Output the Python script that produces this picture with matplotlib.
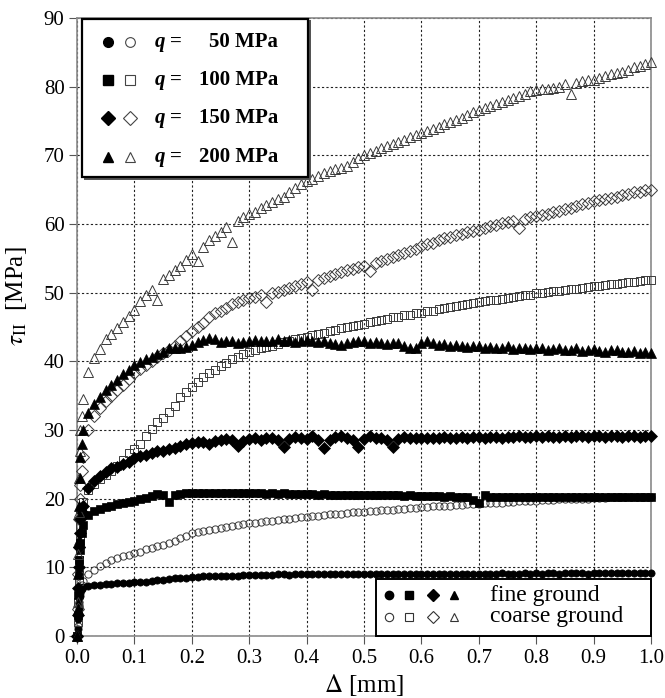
import numpy as np
import matplotlib.pyplot as plt
from matplotlib.patches import Rectangle

plt.rcParams["font.family"] = ["Liberation Serif", "DejaVu Serif"]
plt.rcParams["mathtext.fontset"] = "stix"

# sample positions: a few close to zero, then every 0.01 mm
x_start = [0.0, 0.001, 0.002, 0.003, 0.004, 0.005, 0.006, 0.008]
x_mm = np.r_[x_start, np.arange(1, 101) / 100]

# coarse ground (open markers)
coarse_50 = [0, 1.5, 3, 4.5, 5.5, 6.3, 6.8, 7.5,
             8.0, 9.0, 9.6, 10.2, 10.7, 11.0, 11.3, 11.6, 11.8, 12.1,
             12.3, 12.6, 12.8, 13.1, 13.3, 13.5, 13.9, 14.3, 14.6, 15.0,
             15.2, 15.3, 15.5, 15.6, 15.8, 15.9, 16.0, 16.2, 16.3, 16.4,
             16.5, 16.6, 16.7, 16.8, 16.9, 17.0, 17.1, 17.2, 17.3, 17.4,
             17.5, 17.5, 17.6, 17.7, 17.8, 17.8, 17.9, 18.0, 18.0, 18.1,
             18.2, 18.2, 18.3, 18.4, 18.4, 18.5, 18.5, 18.6, 18.7, 18.8,
             18.8, 18.9, 18.9, 19.0, 19.0, 19.1, 19.1, 19.2, 19.2, 19.2,
             19.3, 19.3, 19.4, 19.4, 19.5, 19.5, 19.6, 19.6, 19.7, 19.7,
             19.8, 19.8, 19.8, 19.9, 19.9, 19.9, 20.0, 20.0, 20.0, 20.1,
             20.1, 20.1, 20.2, 20.2, 20.2, 20.2, 20.3, 20.3, 20.3, 20.3]
coarse_100 = [0, 2, 5, 8, 11, 14, 16, 18,
              19.5, 21.2, 22.2, 22.9, 23.5, 24.1, 24.8, 25.6, 26.6, 27.3,
              28.0, 29.2, 30.2, 31.1, 31.8, 32.6, 33.5, 34.8, 35.6, 36.3,
              37.0, 37.7, 38.3, 38.8, 39.3, 39.8, 40.3, 40.7, 41.0, 41.3,
              41.6, 41.9, 42.1, 42.3, 42.5, 42.8, 43.0, 43.2, 43.4, 43.6,
              43.8, 44.0, 44.2, 44.4, 44.6, 44.8, 45.0, 45.1, 45.3, 45.5,
              45.7, 45.9, 46.0, 46.2, 46.4, 46.5, 46.7, 46.8, 47.0, 47.1,
              47.3, 47.4, 47.6, 47.8, 47.9, 48.1, 48.2, 48.4, 48.5, 48.7,
              48.8, 48.9, 49.0, 49.1, 49.2, 49.4, 49.5, 49.6, 49.7, 49.9,
              50.0, 50.1, 50.2, 50.3, 50.4, 50.5, 50.6, 50.7, 50.8, 50.9,
              51.0, 51.1, 51.2, 51.3, 51.4, 51.5, 51.6, 51.7, 51.8, 51.9]
coarse_150 = [0, 4, 9, 13, 17, 20, 22, 24,
              26.0, 30.0, 32.0, 33.2, 34.2, 35.0, 35.8, 36.6, 37.4, 38.3,
              38.9, 39.5, 40.1, 40.7, 41.2, 41.6, 42.3, 43.0, 43.7, 44.4,
              45.0, 45.6, 46.4, 47.0, 47.4, 47.8, 48.3, 48.6, 48.9, 49.2,
              49.4, 49.6, 48.6, 49.9, 50.1, 50.4, 50.7, 51.0, 51.3, 51.6,
              50.4, 51.9, 52.1, 52.4, 52.7, 53.0, 53.3, 53.5, 53.7, 53.9,
              53.1, 54.3, 54.6, 54.9, 55.2, 55.5, 55.8, 56.1, 56.4, 56.8,
              57.1, 57.3, 57.6, 57.9, 58.1, 58.4, 58.6, 58.8, 59.0, 59.2,
              59.4, 59.7, 59.9, 60.1, 60.3, 60.5, 59.4, 60.8, 61.0, 61.1,
              61.3, 61.5, 61.7, 61.9, 62.2, 62.4, 62.6, 62.9, 63.1, 63.3,
              63.5, 63.6, 63.8, 64.0, 64.2, 64.4, 64.6, 64.7, 64.9, 65.0]
coarse_200 = [0, 5, 12, 18, 23, 27, 30, 32,
              34.5, 38.5, 40.5, 41.8, 43.2, 44.0, 44.8, 45.7, 46.6, 47.5,
              48.8, 49.6, 50.4, 48.9, 52.0, 52.6, 53.3, 53.9, 54.8, 55.7,
              54.6, 56.6, 57.6, 58.2, 58.9, 59.6, 57.4, 60.4, 61.0, 61.4,
              61.8, 62.3, 62.8, 63.2, 63.6, 64.0, 64.6, 65.2, 65.8, 66.3,
              66.6, 67.0, 67.4, 67.7, 68.0, 68.2, 68.5, 69.0, 69.6, 70.1,
              70.4, 70.7, 71.0, 71.3, 71.6, 71.9, 72.2, 72.6, 72.9, 73.2,
              73.5, 73.8, 74.1, 74.5, 74.8, 75.1, 75.5, 75.9, 76.3, 76.6,
              76.9, 77.2, 77.5, 77.8, 78.1, 78.4, 78.7, 79.0, 79.3, 79.5,
              79.6, 79.7, 79.8, 80.0, 80.4, 79.0, 80.6, 80.8, 80.9, 81.0,
              81.2, 81.5, 81.8, 82.0, 82.2, 82.5, 82.8, 83.0, 83.3, 83.6]

# fine ground (filled markers)
fine_50 = [0, 1, 2.5, 4, 5, 5.8, 6.4, 6.9,
           7.1, 7.3, 7.4, 7.5, 7.6, 7.6, 7.7, 7.7, 7.7, 7.8,
           7.9, 7.9, 8.0, 8.1, 8.2, 8.3, 8.4, 8.4, 8.5, 8.6,
           8.6, 8.7, 8.7, 8.7, 8.8, 8.8, 8.8, 8.8, 8.9, 8.9,
           8.9, 8.9, 8.9, 8.9, 9.0, 9.0, 8.9, 9.0, 9.0, 9.0,
           9.0, 9.0, 9.0, 9.0, 9.0, 9.0, 9.0, 9.1, 9.0, 9.0,
           9.0, 9.1, 9.0, 9.1, 9.1, 9.0, 9.1, 9.1, 9.1, 9.1,
           9.1, 9.1, 9.1, 9.0, 9.1, 9.1, 9.1, 9.1, 9.1, 9.1,
           9.1, 9.1, 9.1, 9.2, 9.1, 9.1, 9.1, 9.2, 9.1, 9.2,
           9.1, 9.2, 9.2, 9.1, 9.2, 9.2, 9.2, 9.2, 9.1, 9.2,
           9.2, 9.2, 9.2, 9.2, 9.2, 9.2, 9.2, 9.2, 9.2, 9.2]
fine_100 = [0, 3, 6, 9, 11, 12.5, 13.5, 15,
            16.2, 17.6, 18.2, 18.5, 18.8, 19.0, 19.2, 19.4, 19.5, 19.7,
            19.9, 20.1, 20.4, 20.7, 20.6, 19.5, 20.5, 20.7, 20.8, 20.8,
            20.9, 20.9, 20.9, 20.8, 20.9, 20.8, 20.8, 20.9, 20.8, 20.8,
            20.8, 20.8, 20.7, 20.8, 20.7, 20.8, 20.7, 20.7, 20.7, 20.7,
            20.7, 20.6, 20.7, 20.6, 20.6, 20.6, 20.6, 20.5, 20.6, 20.5,
            20.5, 20.5, 20.6, 20.5, 20.5, 20.5, 20.4, 20.5, 20.4, 20.4,
            20.4, 20.4, 20.4, 20.3, 20.4, 20.3, 20.3, 20.2, 19.8, 19.3,
            20.6, 20.3, 20.3, 20.3, 20.3, 20.3, 20.2, 20.3, 20.3, 20.2,
            20.2, 20.2, 20.3, 20.2, 20.2, 20.2, 20.3, 20.2, 20.2, 20.2,
            20.3, 20.2, 20.2, 20.2, 20.3, 20.2, 20.2, 20.3, 20.2, 20.3]
fine_150 = [0, 3, 7, 10, 13, 15, 17, 18,
            19.0, 21.5, 22.6, 23.3, 23.9, 24.4, 24.6, 25.0, 25.4, 25.9,
            26.2, 26.4, 26.6, 26.9, 27.0, 27.3, 27.4, 27.6, 27.9, 28.1,
            28.2, 28.3, 28.0, 28.4, 28.5, 28.7, 28.6, 27.6, 28.4, 28.7,
            28.8, 28.6, 28.9, 28.8, 28.6, 27.5, 28.7, 29.0, 28.9, 28.7,
            29.1, 28.5, 27.4, 28.6, 29.0, 29.1, 28.8, 28.6, 27.5, 28.7,
            29.1, 28.9, 28.8, 28.5, 27.5, 28.7, 29.0, 28.9, 28.8, 28.9,
            28.8, 28.9, 28.9, 29.0, 28.9, 28.9, 29.0, 28.9, 29.0, 29.0,
            28.9, 29.0, 29.0, 28.9, 29.0, 29.0, 29.1, 29.0, 29.0, 29.1,
            29.0, 29.1, 29.0, 29.0, 29.1, 29.0, 29.1, 29.1, 29.0, 29.1,
            29.1, 29.0, 29.1, 29.1, 29.0, 29.1, 29.1, 29.0, 29.1, 29.1]
fine_200 = [0, 4, 9, 14, 19, 23, 26, 28,
            30.0, 32.5, 33.8, 34.8, 35.8, 36.5, 37.3, 38.1, 38.8, 39.5,
            39.9, 40.3, 40.7, 41.0, 41.4, 41.9, 42.0, 41.9, 42.1, 42.4,
            42.8, 43.1, 43.4, 43.2, 42.8, 42.9, 43.0, 42.6, 42.8, 43.0,
            43.1, 43.0, 42.9, 42.9, 43.2, 43.0, 43.1, 42.8, 43.0, 43.1,
            43.0, 42.8, 42.9, 42.6, 42.5, 42.4, 42.7, 42.8, 42.9, 42.9,
            42.7, 42.8, 42.6, 42.5, 42.7, 42.6, 42.2, 41.9, 42.0, 42.7,
            42.9, 42.6, 42.4, 42.5, 42.3, 42.4, 42.2, 42.1, 42.3, 42.2,
            42.0, 42.1, 41.9, 42.0, 42.2, 41.8, 41.9, 42.0, 41.8, 42.0,
            41.9, 41.7, 41.8, 42.0, 41.6, 41.7, 41.9, 41.5, 41.6, 41.8,
            41.5, 41.4, 41.6, 41.7, 41.3, 41.4, 41.5, 41.2, 41.3, 41.2]

loads = ["50", "100", "150", "200"]
markers = ["o", "s", "D", "^"]
msizes = [5.2, 5.6, 5.8, 7]
fine = [fine_50, fine_100, fine_150, fine_200]
coarse = [coarse_50, coarse_100, coarse_150, coarse_200]

fig = plt.figure(figsize=(6.65, 6.98), dpi=100)
ax = fig.add_axes([0.1158, 0.0888, 0.8632, 0.8854])

for m, ms, yc, yf in zip(markers, msizes, coarse, fine):
    ax.plot(x_mm, yc, linestyle="none", marker=m, ms=ms, mfc="none",
            mec="#3a3a3a", mew=0.7, clip_on=False, zorder=3)
    ax.plot(x_mm, yf, linestyle="none", marker=m, ms=ms, mfc="black",
            mec="black", mew=0.5, clip_on=False, zorder=3)

ax.set_xlim(0, 1.0)
ax.set_ylim(0, 90)
ax.set_xticks(np.arange(0, 1.01, 0.1))
ax.set_xticklabels([f"{v:.1f}" for v in np.arange(0, 1.01, 0.1)])
ax.set_yticks(range(0, 91, 10))
ax.tick_params(labelsize=15, direction="out", length=6, color="#555555",
               pad=3)
ax.grid(True, color="#222222", linestyle=(0, (2, 2)), linewidth=0.8)
for s in ax.spines.values():
    s.set_color("#8a8a8a")
    s.set_linewidth(1.2)

ax.set_xlabel(r"$\Delta$ [mm]", fontsize=18)
ax.xaxis.set_label_coords(0.5, -0.058)
ax.set_ylabel(r"$\tau_{\rm II}$  [MPa]", fontsize=18)
ax.yaxis.set_label_coords(-0.083, 0.55)

# upper left key: loads
ax.add_patch(Rectangle((0.012, 0.738), 0.395, 0.259, transform=ax.transAxes,
                       facecolor="#555555", edgecolor="none", zorder=5,
                       clip_on=False))
ax.add_patch(Rectangle((0.008, 0.742), 0.395, 0.256, transform=ax.transAxes,
                       facecolor="white", edgecolor="black", lw=1.6, zorder=5,
                       clip_on=False))
rows = [0.961, 0.900, 0.838, 0.775]
for m, ld, yy in zip(markers, loads, rows):
    ax.plot([0.054], [yy], marker=m, ms=7, color="black", mec="black",
            transform=ax.transAxes, zorder=6, clip_on=False)
    ax.plot([0.092], [yy], marker=m, ms=7, mfc="white", mec="#444444",
            mew=0.8, transform=ax.transAxes, zorder=6, clip_on=False)
    ax.text(0.135, yy, "q", style="italic", weight="bold", fontsize=15,
            va="center", transform=ax.transAxes, zorder=7)
    ax.text(0.172, yy, "=", weight="bold", fontsize=15, va="center",
            ha="center", transform=ax.transAxes, zorder=7)
    ax.text(0.350, yy, f"{ld} MPa", weight="bold", fontsize=15, va="center",
            ha="right", transform=ax.transAxes, zorder=7)

# lower right key: surface finish
ax.add_patch(Rectangle((0.521, 0.0), 0.479, 0.092, transform=ax.transAxes,
                       facecolor="white", edgecolor="black", lw=1.4, zorder=5,
                       clip_on=False))
key_x = [0.544, 0.578, 0.620, 0.657]
for m, kx in zip(markers, key_x):
    ax.plot([kx], [0.066], marker=m, ms=6, color="black",
            transform=ax.transAxes, zorder=6, clip_on=False)
    ax.plot([kx], [0.031], marker=m, ms=6, mfc="white", mec="#333333",
            mew=0.8, transform=ax.transAxes, zorder=6, clip_on=False)
ax.text(0.7195, 0.066, "fine ground", fontsize=17, va="center",
        transform=ax.transAxes, zorder=7)
ax.text(0.7195, 0.031, "coarse ground", fontsize=17, va="center",
        transform=ax.transAxes, zorder=7)

plt.savefig("out.png", dpi=100)
